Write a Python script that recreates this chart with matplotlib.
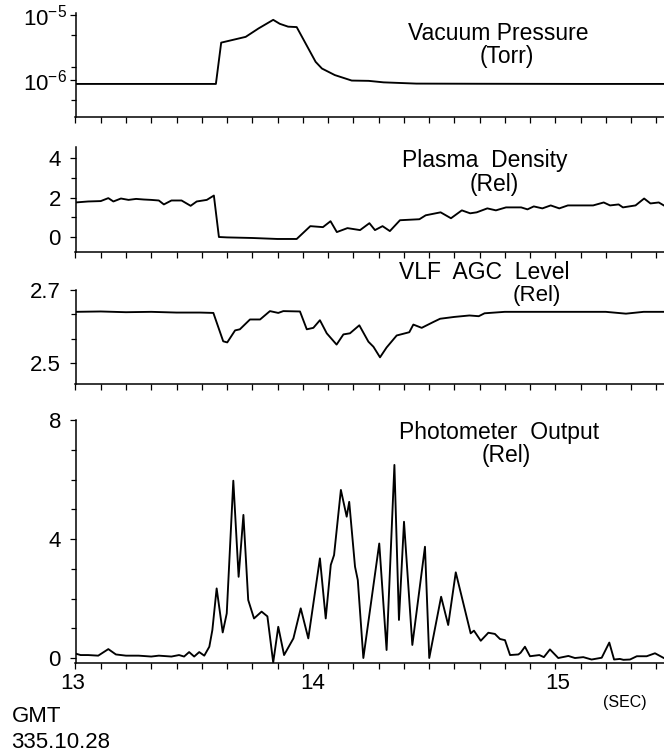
import matplotlib
matplotlib.use("Agg")
import matplotlib.pyplot as plt
import matplotlib.transforms as mtransforms
from matplotlib.ticker import FixedLocator, MultipleLocator, NullFormatter

plt.rcParams['font.family'] = ['Liberation Sans', 'DejaVu Sans']
plt.rcParams['mathtext.fontset'] = 'custom'
plt.rcParams['mathtext.rm'] = 'Liberation Sans'
plt.rcParams['mathtext.default'] = 'regular'

# ---- data (time in seconds past 335.10.28 GMT) ----
t_vac = [13.00, 13.30, 13.556, 13.577, 13.674, 13.725, 13.783, 13.809, 13.842,
         13.876, 13.951, 13.976, 14.027, 14.094, 14.161, 14.22, 14.35, 14.60,
         15.00, 15.33]
p_vac = [8.7e-7, 8.7e-7, 8.7e-7, 3.75e-6, 4.6e-6, 6.2e-6, 8.4e-6, 7.3e-6, 6.6e-6,
         6.5e-6, 1.9e-6, 1.5e-6, 1.19e-6, 9.8e-7, 9.7e-7, 9.2e-7, 8.8e-7, 8.75e-7,
         8.7e-7, 8.7e-7]

t_dens = [13.00, 13.05, 13.10, 13.13, 13.15, 13.18, 13.21, 13.24, 13.27, 13.30,
          13.33, 13.35, 13.38, 13.42, 13.456, 13.48, 13.52, 13.548, 13.568, 13.60,
          13.70, 13.80, 13.876, 13.93, 13.98, 14.01, 14.035, 14.077, 14.127, 14.164,
          14.186, 14.216, 14.245, 14.285, 14.362, 14.387, 14.446, 14.487, 14.53,
          14.563, 14.589, 14.631, 14.665, 14.705, 14.765, 14.79, 14.815, 14.849,
          14.882, 14.916, 14.95, 15.00, 15.05, 15.092, 15.117, 15.151, 15.168,
          15.218, 15.252, 15.277, 15.31, 15.33]
v_dens = [1.75, 1.8, 1.82, 1.97, 1.8, 1.95, 1.88, 1.93, 1.9, 1.88,
          1.85, 1.65, 1.85, 1.85, 1.58, 1.8, 1.88, 2.1, 0.0, -0.02,
          -0.05, -0.1, -0.1, 0.55, 0.5, 0.8, 0.25, 0.45, 0.35, 0.7,
          0.35, 0.55, 0.3, 0.85, 0.9, 1.1, 1.25, 0.95, 1.35,
          1.2, 1.25, 1.45, 1.35, 1.5, 1.5, 1.4, 1.55, 1.45,
          1.6, 1.45, 1.6, 1.6, 1.6, 1.75, 1.6, 1.65, 1.5,
          1.6, 1.95, 1.7, 1.75, 1.6]

t_agc = [13.00, 13.10, 13.20, 13.30, 13.40, 13.493, 13.546, 13.585, 13.601, 13.632,
         13.651, 13.691, 13.731, 13.770, 13.803, 13.823, 13.889, 13.916, 13.942,
         13.968, 13.995, 14.034, 14.061, 14.087, 14.124, 14.160, 14.180, 14.206,
         14.232, 14.272, 14.322, 14.338, 14.371, 14.417, 14.444, 14.50, 14.56,
         14.597, 14.62, 14.70, 14.90, 15.10, 15.18, 15.25, 15.33]
v_agc = [2.640, 2.641, 2.639, 2.640, 2.638, 2.638, 2.637, 2.559, 2.556, 2.589,
         2.592, 2.619, 2.619, 2.642, 2.637, 2.642, 2.641, 2.592, 2.596,
         2.617, 2.581, 2.550, 2.578, 2.581, 2.603, 2.558, 2.544, 2.515,
         2.542, 2.575, 2.584, 2.605, 2.596, 2.612, 2.621, 2.626, 2.630,
         2.628, 2.636, 2.640, 2.640, 2.640, 2.635, 2.640, 2.640]

t_phot = [13.00, 13.02, 13.05, 13.09, 13.13, 13.16, 13.20, 13.25, 13.30, 13.33,
          13.38, 13.41, 13.43, 13.45, 13.47, 13.49, 13.51, 13.53, 13.542, 13.559,
          13.583, 13.599, 13.625, 13.646, 13.665, 13.684, 13.707, 13.737, 13.76,
          13.783, 13.803, 13.826, 13.863, 13.892, 13.922, 13.968, 13.991, 14.011,
          14.024, 14.051, 14.074, 14.084, 14.107, 14.118, 14.140, 14.203, 14.232,
          14.263, 14.281, 14.301, 14.334, 14.384, 14.401, 14.448, 14.476, 14.506,
          14.565, 14.578, 14.605, 14.635, 14.661, 14.681, 14.701, 14.721, 14.754,
          14.763, 14.780, 14.80, 14.837, 14.855, 14.879, 14.912, 14.952, 14.978,
          15.011, 15.044, 15.084, 15.114, 15.133, 15.156, 15.170, 15.196, 15.223,
          15.262, 15.295, 15.33]
v_phot = [0.15, 0.1, 0.1, 0.08, 0.3, 0.12, 0.08, 0.08, 0.05, 0.08,
          0.05, 0.1, 0.05, 0.2, 0.05, 0.2, 0.08, 0.38, 0.94, 2.34,
          0.86, 1.50, 5.96, 2.73, 4.81, 1.95, 1.33, 1.56, 1.40,
          -0.15, 1.05, 0.1, 0.66, 1.67, 0.66, 3.35, 1.33, 3.13,
          3.46, 5.65, 4.75, 5.25, 3.07, 2.62, 0.0, 3.85, 0.27,
          6.49, 1.28, 4.58, 0.44, 3.74, 0.0, 2.06, 1.11, 2.88,
          0.83, 0.92, 0.58, 0.85, 0.81, 0.64, 0.6, 0.1, 0.12,
          0.18, 0.38, 0.06, 0.1, 0.03, 0.29, 0.0, 0.07, 0.0,
          0.03, -0.05, 0.01, 0.52, -0.05, -0.03, -0.06, -0.05, 0.06,
          0.06, 0.16, 0.0]

xtick_labels = ['13', '14', '15']

# ---- layout (pixel geometry of the original) ----
W, H = 664, 754
fig = plt.figure(figsize=(W / 100, H / 100), dpi=100)
left = 75.5 / W
XMAX = 13 + (W - 75.5) / 252.5

def make_ax(top_px, bottom_px):
    return fig.add_axes([left, 1 - bottom_px / H, 1 - left, (bottom_px - top_px) / H])

ax1 = make_ax(13, 117)
ax2 = make_ax(147, 252)
ax3 = make_ax(290, 384)
ax4 = make_ax(420, 663)

for ax in (ax1, ax2, ax3, ax4):
    ax.set_xlim(13, XMAX)
    ax.spines['top'].set_visible(False)
    ax.spines['right'].set_visible(False)
    ax.spines['left'].set_linewidth(1.1)
    ax.spines['bottom'].set_linewidth(1.1)
    ax.xaxis.set_major_locator(FixedLocator([13, 14, 15]))
    ax.xaxis.set_minor_locator(MultipleLocator(0.1))
    ax.tick_params(which='both', direction='out', width=0.9, labelsize=16)
    ax.tick_params(axis='x', which='both', length=4.5, pad=2.5)
    ax.tick_params(axis='y', which='major', length=4.5, pad=6)
    ax.tick_params(axis='y', which='minor', length=3.5)
    ax.patch.set_alpha(0)

lw = 1.35
ax1.plot(t_vac, p_vac, color='black', lw=lw)
ax1.set_yscale('log')
ax1.set_ylim(2.7e-7, 1.07e-5)
ax1.yaxis.set_major_locator(FixedLocator([1e-6, 1e-5]))
ax1.set_yticklabels([r'$10^{-6}$', r'$10^{-5}$'])
ax1.yaxis.set_minor_locator(FixedLocator([5e-7, 1.6e-6, 5e-6]))
ax1.yaxis.set_minor_formatter(NullFormatter())
ax1.tick_params(axis='y', which='major', pad=1.5)

ax2.plot(t_dens, v_dens, color='black', lw=lw)
ax2.set_ylim(-0.76, 4.56)
ax2.yaxis.set_major_locator(FixedLocator([0, 2, 4]))
ax2.yaxis.set_minor_locator(FixedLocator([1, 3]))

ax3.plot(t_agc, v_agc, color='black', lw=lw)
ax3.set_ylim(2.4417, 2.7)
ax3.yaxis.set_major_locator(FixedLocator([2.5, 2.7]))
ax3.set_yticklabels(['2.5', '2.7'])
ax3.yaxis.set_minor_locator(FixedLocator([2.5667, 2.6333]))

ax4.plot(t_phot, v_phot, color='black', lw=lw)
ax4.set_ylim(-0.167, 8)
ax4.yaxis.set_major_locator(FixedLocator([0, 4, 8]))
ax4.yaxis.set_minor_locator(MultipleLocator(1))

for ax in (ax1, ax2, ax3):
    ax.set_xticklabels([])
ax4.set_xticklabels(xtick_labels)
# the hand lettered second labels sit a little left of their ticks
for lbl, dx in zip(ax4.get_xticklabels(), [-2.5, -15, -23]):
    lbl.set_transform(lbl.get_transform() +
                      mtransforms.ScaledTranslation(dx / 100, 0, fig.dpi_scale_trans))

def ftext(x, y, s, size=16.5, **kw):
    fig.text(x / W, 1 - y / H, s, fontsize=size, ha='center', va='center', **kw)

ftext(498, 33, 'Vacuum Pressure')
ftext(507, 57, '(Torr)')
ftext(485, 160, 'Plasma  Density')
ftext(494, 184, '(Rel)')
ftext(484, 273, 'VLF  AGC  Level')
ftext(537, 296, '(Rel)', size=16)
ftext(499, 432, 'Photometer  Output')
ftext(506, 456, '(Rel)')
ftext(625, 702, '(SEC)', size=11.5)
fig.text(12 / W, 1 - 716 / H, 'GMT', fontsize=16, ha='left', va='center')
fig.text(11 / W, 1 - 742 / H, '335.10.28', fontsize=16, ha='left', va='center')

fig.savefig('out.png', dpi=100)
